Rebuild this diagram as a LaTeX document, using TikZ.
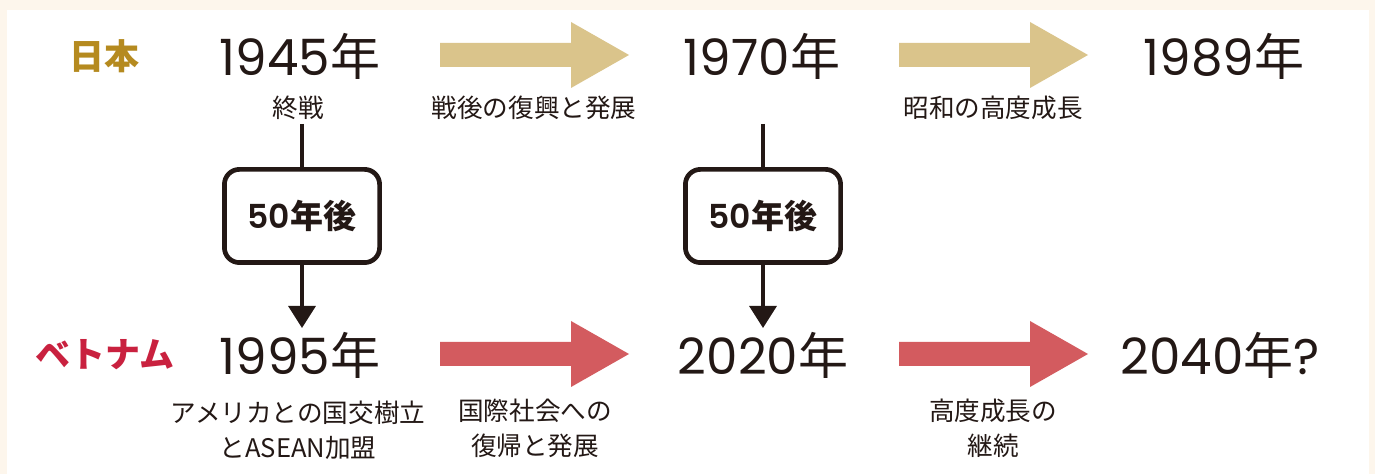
\documentclass[tikz,border=0pt]{standalone}
\usepackage{fontspec}
\setmainfont{Noto Sans CJK JP}
\newfontfamily\cjkyear{Noto Sans CJK JP}
\newfontfamily\digits[BoldFont={* SemiBold}]{Poppins}
\usetikzlibrary{arrows.meta}
\definecolor{cream}{HTML}{FDF6EC}
\definecolor{ink}{HTML}{231815}
\definecolor{beige}{HTML}{DAC48B}
\definecolor{rosered}{HTML}{D35B5F}
\definecolor{gold}{HTML}{B58A1F}
\definecolor{crimson}{HTML}{C9213F}
\tikzset{
  year/.style={inner sep=0pt, text=ink, font=\fontsize{25pt}{30pt}\selectfont\cjkyear},
  country/.style={inner sep=0pt, font=\fontsize{17.5pt}{20pt}\selectfont\bfseries},
  sub/.style={inner sep=0pt, text=ink, align=center, font=\fontsize{12.8pt}{17.5pt}\selectfont},
  gapbox/.style={draw=ink, line width=2.35pt, rounded corners=7.5pt, minimum width=77.6pt,
    minimum height=46.6pt, inner sep=0pt, text=ink, font=\fontsize{16.5pt}{18pt}\selectfont\bfseries},
  link/.style={draw=ink, line width=1.65pt},
  linkarrow/.style={link, -{Triangle[width=13.5pt,length=11pt]}},
}
\newcommand{\blockarrow}[4]{% x0, x1, ycenter, color
  \fill[#4] (#1,#3-12) -- (#1+131,#3-12) -- (#1+131,#3-33) -- (#2,#3) -- (#1+131,#3+33)
    -- (#1+131,#3+12) -- (#1,#3+12) -- cycle;}
\begin{document}
\begin{tikzpicture}[x=0.5pt,y=-0.5pt]
\useasboundingbox (0,0) rectangle (1375,474);
\fill[cream] (0,0) rectangle (1375,474);
\fill[white] (7,10) rectangle (1369,474);

% country labels
\node[country, text=gold] (jp) at (104,56) {日本};
\node[country, text=crimson] (vn) at (105,355) {ベトナム};

% years
\node[year] (y1945) at (300,56) {{\digits 1945}年};
\node[year] (y1970) at (762,56) {{\digits 1970}年};
\node[year] (y1989) at (1224,56) {{\digits 1989}年};
\node[year] (y1995) at (300,355) {{\digits 1995}年};
\node[year] (y2020) at (763,355) {{\digits 2020}年};
\node[year] (y2040) at (1220,355) {{\digits 2040}年{\digits ?}};

% sub labels
\node[sub] (s1) at (298,108) {終戦};
\node[sub] (s2) at (534,108) {戦後の復興と発展};
\node[sub] (s3) at (993,108) {昭和の高度成長};
\node[sub] (s4) at (298,430) {アメリカとの国交樹立\\とASEAN加盟};
\node[sub] (s5) at (535,428) {国際社会への\\復帰と発展};
\node[sub] (s6) at (993,428) {高度成長の\\継続};

% block arrows
\blockarrow{440}{629}{55}{beige}
\blockarrow{899}{1088}{55}{beige}
\blockarrow{440}{629}{354}{rosered}
\blockarrow{899}{1088}{354}{rosered}

% 50 years later boxes
\node[gapbox] (g1) at (302,216) {{\digits\bfseries 50}年後};
\node[gapbox] (g2) at (763,216) {{\digits\bfseries 50}年後};
\coordinate (t1) at (302,124);
\coordinate (t2) at (763,124);
\coordinate (e1) at (302,328);
\coordinate (e2) at (763,328);
\draw[link] (t1) -- (g1.north);
\draw[link] (t2) -- (g2.north);
\draw[linkarrow] (g1.south) -- (e1);
\draw[linkarrow] (g2.south) -- (e2);
\end{tikzpicture}
\end{document}
